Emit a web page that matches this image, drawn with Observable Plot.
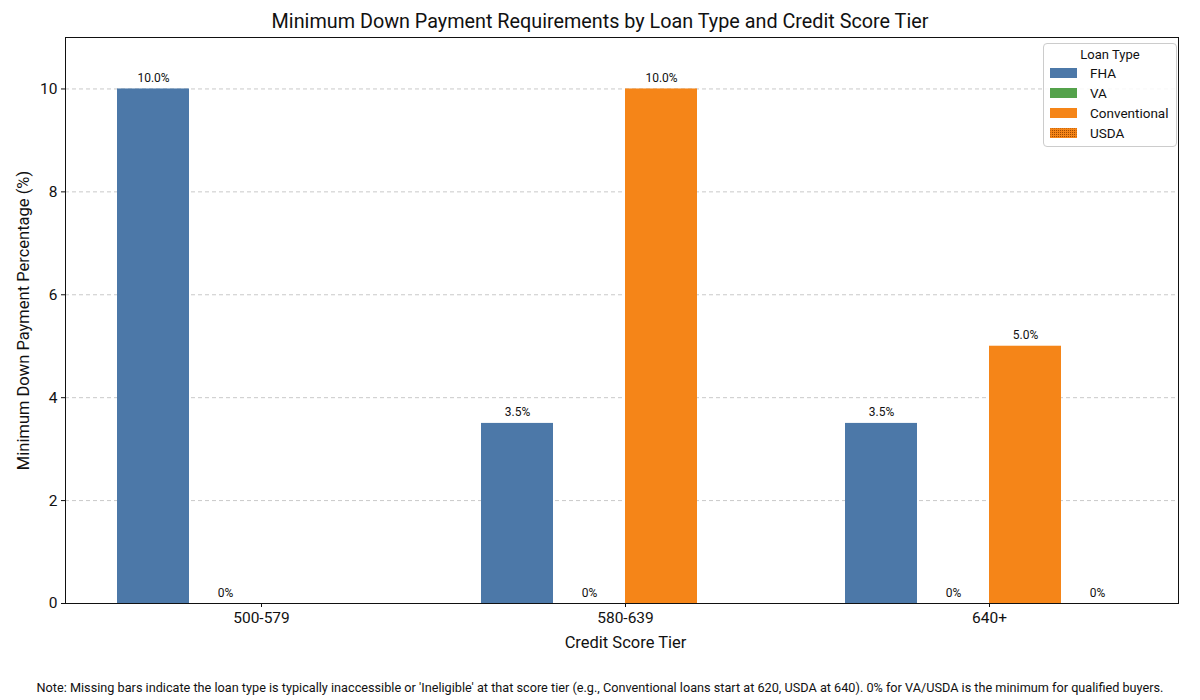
<!DOCTYPE html>
<html>
<head>
<meta charset="utf-8">
<script src="https://cdn.jsdelivr.net/npm/d3@7"></script>
<script src="https://cdn.jsdelivr.net/npm/@observablehq/plot@0.6"></script>
<style>
  body { margin: 0; background: #fff; font-family: Roboto, "Noto Sans", sans-serif; }
  #wrap { position: relative; width: 1200px; height: 700px; }
  #title { height: 30px; line-height: 44px; text-align: center; font-size: 19.8px; color: #111; }
  #caption { position: absolute; left: 0; width: 1200px; top: 680px; text-align: center; font-size: 12.7px; color: #111; }
  #legend { position: absolute; left: 1043px; top: 43px; width: 134px; height: 104px; border: 1px solid #ccc; border-radius: 4px; background: rgba(255,255,255,0.85); font-size: 13.5px; color: #111; box-sizing: border-box; }
  #legend .lt { text-align: center; margin-top: 3px; margin-bottom: 1px; font-size: 13px; }
  #legend .row { display: flex; align-items: center; height: 20px; padding-left: 6px; }
  #legend .row svg { margin-right: 13px; }
</style>
</head>
<body>
<div id="wrap">
  <div id="title">Minimum Down Payment Requirements by Loan Type and Credit Score Tier</div>
  <div id="chart"></div>
  <div id="legend"></div>
  <div id="caption">Note: Missing bars indicate the loan type is typically inaccessible or 'Ineligible' at that score tier (e.g., Conventional loans start at 620, USDA at 640). 0% for VA/USDA is the minimum for qualified buyers.</div>
</div>
<script>
const tiers = ["500-579", "580-639", "640+"];
const loanTypes = ["FHA", "VA", "Conventional", "USDA"];
const colors = ["#4c78a8", "#54a24b", "#f58518", "#f58518"];
const fha = [10, 3.5, 3.5];
const va = [0, 0, 0];
const conventional = [null, 10, 5];
const usda = [null, null, 0];
const yTicks = [0, 2, 4, 6, 8, 10];

const series = [fha, va, conventional, usda];
const rows = [];
tiers.forEach((t, i) => {
  loanTypes.forEach((lt, j) => {
    const v = series[j][i];
    if (v !== null) rows.push({tier: t, type: lt, value: v});
  });
});
const gridRows = tiers.flatMap(t => yTicks.slice(1).map(v => ({tier: t, v})));
const gridStyle = {y: "v", fx: "tier", stroke: "#bbb", strokeOpacity: 1, strokeDasharray: "4,3", strokeWidth: 0.8};

const fmt = v => v === 0 ? "0%" : v.toFixed(1) + "%";

const chart = Plot.plot({
  width: 1200,
  height: 630,
  marginTop: 7,
  marginLeft: 65,
  marginRight: 22,
  marginBottom: 57,
  style: {fontFamily: "Roboto, 'Noto Sans', sans-serif", fontSize: "15px", color: "#111"},
  fx: {domain: tiers, paddingInner: 0, paddingOuter: 0.0288, align: 0.67, label: null, axis: null},
  x: {domain: loanTypes, paddingInner: 0, paddingOuter: 0.5, axis: null},
  y: {domain: [0, 11], axis: null},
  color: {domain: loanTypes, range: colors},
  marks: [
    Plot.ruleY(gridRows.filter(d => d.tier === tiers[0]), {...gridStyle, insetLeft: -14}),
    Plot.ruleY(gridRows.filter(d => d.tier === tiers[1]), gridStyle),
    Plot.ruleY(gridRows.filter(d => d.tier === tiers[2]), {...gridStyle, insetRight: -7}),
    Plot.barY(rows, {fx: "tier", x: "type", y: "value", fill: "type"}),
    Plot.text(rows, {fx: "tier", x: "type", y: "value", text: d => fmt(d.value), dy: -7, lineAnchor: "bottom", fontSize: 12, fill: "#111"}),
    Plot.axisY(yTicks, {dx: -14, tickFormat: d => String(d), label: null, fontSize: 15.5, tickSize: 4, tickPadding: 4}),
    Plot.axisY([], {label: "Minimum Down Payment Percentage (%)", labelAnchor: "center", labelArrow: "none", labelOffset: 62, fontSize: 16.5, tickSize: 0}),
    Plot.axisFx({anchor: "bottom", label: null, fontSize: 15.5, tickSize: 4, tickPadding: 4}),
    Plot.axisFx([], {anchor: "bottom", label: "Credit Score Tier", labelAnchor: "center", labelArrow: "none", labelOffset: 44, fontSize: 16.5, tickSize: 0}),
    Plot.frame({facet: "super", stroke: "#111", strokeWidth: 1, insetLeft: -14, insetRight: -7})
  ]
});
document.getElementById("chart").appendChild(chart);

// Legend
const legend = document.getElementById("legend");
let html = '<div class="lt">Loan Type</div>';
loanTypes.forEach((lt, i) => {
  let sw;
  if (lt === "USDA") {
    sw = `<svg width="27" height="10"><defs><pattern id="hatch" width="2" height="2" patternUnits="userSpaceOnUse"><rect width="2" height="2" fill="${colors[i]}"/><rect width="1" height="1" fill="#a04a00"/></pattern></defs><rect width="27" height="10" fill="url(#hatch)" stroke="${colors[i]}" stroke-width="1"/></svg>`;
  } else {
    sw = `<svg width="27" height="10"><rect width="27" height="10" fill="${colors[i]}"/></svg>`;
  }
  html += `<div class="row">${sw}<span>${lt}</span></div>`;
});
legend.innerHTML = html;
</script>
</body>
</html>
